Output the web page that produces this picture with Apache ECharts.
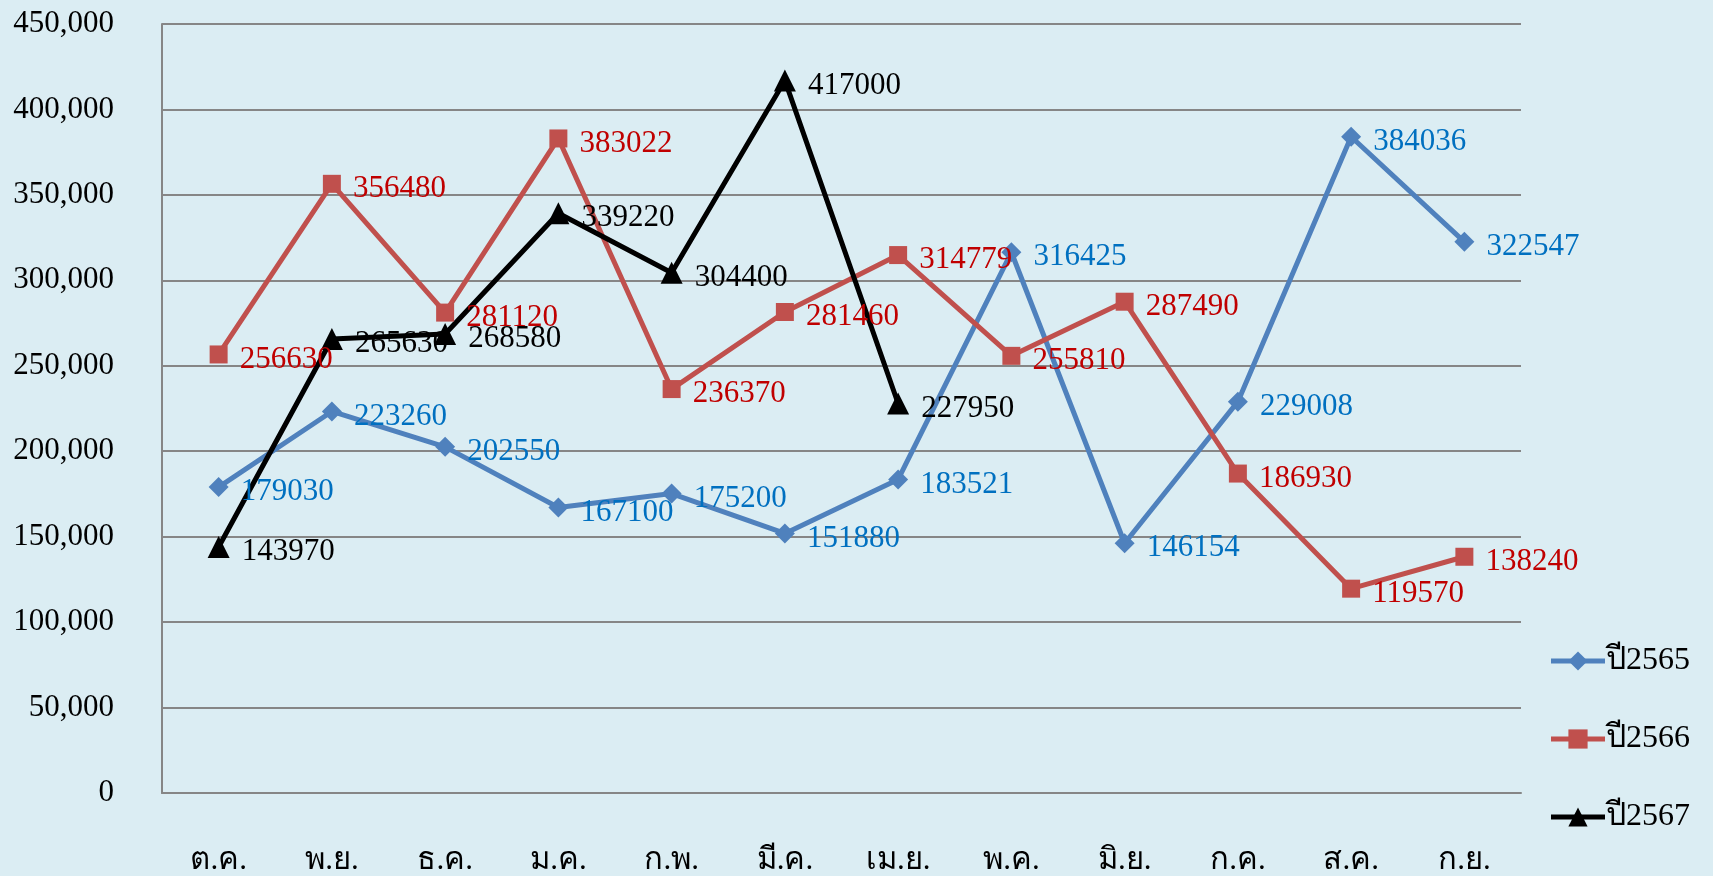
<!DOCTYPE html>
<html>
<head>
    <meta charset="utf-8">
    <title>chart</title>
    <script src="https://cdn.jsdelivr.net/npm/echarts@6/dist/echarts.min.js"></script>
</head>
<body style="margin:0;background:#dbedf3">
<div id="main" style="width:1713px;height:876px"></div>
<script type="text/javascript">
// เดือน (ปีงบประมาณ ต.ค. - ก.ย.)
var months = ['ต.ค.', 'พ.ย.', 'ธ.ค.', 'ม.ค.', 'ก.พ.', 'มี.ค.', 'เม.ย.', 'พ.ค.', 'มิ.ย.', 'ก.ค.', 'ส.ค.', 'ก.ย.'];
var y2565 = [179030, 223260, 202550, 167100, 175200, 151880, 183521, 316425, 146154, 229008, 384036, 322547];
var y2566 = [256630, 356480, 281120, 383022, 236370, 281460, 314779, 255810, 287490, 186930, 119570, 138240];
var y2567 = [143970, 265630, 268580, 339220, 304400, 417000, 227950, null, null, null, null, null];

var serif = '"Liberation Serif", "DejaVu Serif", serif';

function mkSeries(name, data, color, labelColor, symbol, size) {
    return {
        name: name,
        type: 'line',
        data: data,
        symbol: symbol,
        symbolSize: size,
        connectNulls: false,
        lineStyle: { width: 5, color: color },
        itemStyle: { color: color },
        label: {
            show: true,
            position: 'right',
            distance: 12,
            offset: [0, 5],
            color: labelColor,
            fontFamily: serif,
            fontSize: 31
        }
    };
}

var myChart = echarts.init(document.getElementById('main'));
var option = {
    backgroundColor: '#dbedf3',
    animation: false,
    grid: { left: 162, right: 192, top: 24, bottom: 83 },
    legend: {
        orient: 'vertical',
        right: 18,
        top: 640,
        itemGap: 46,
        itemWidth: 54,
        itemHeight: 24,
        lineStyle: { width: 5 },
        textStyle: { fontFamily: serif, fontSize: 32, color: '#000', padding: [0, 0, 0, -4] },
        data: ['ปี2565', 'ปี2566', 'ปี2567']
    },
    xAxis: {
        type: 'category',
        data: months,
        boundaryGap: true,
        axisLine: { lineStyle: { color: '#868686', width: 2 } },
        axisTick: { show: false },
        axisLabel: { margin: 52, fontFamily: serif, fontSize: 31, color: '#000' }
    },
    yAxis: {
        type: 'value',
        min: 0,
        max: 450000,
        interval: 50000,
        axisLine: { show: true, lineStyle: { color: '#868686', width: 2 } },
        axisTick: { show: false },
        splitLine: { lineStyle: { color: '#868686', width: 2 } },
        axisLabel: {
            margin: 48,
            fontFamily: serif,
            fontSize: 31,
            color: '#000',
            formatter: function (v) { return v.toLocaleString('en-US'); }
        }
    },
    series: [
        mkSeries('ปี2565', y2565, '#4f81bd', '#0070c0', 'diamond', 20),
        mkSeries('ปี2566', y2566, '#c0504d', '#c00000', 'rect', 18),
        mkSeries('ปี2567', y2567, '#000000', '#000000', 'triangle', 22)
    ]
};
myChart.setOption(option);
</script>
</body>
</html>
